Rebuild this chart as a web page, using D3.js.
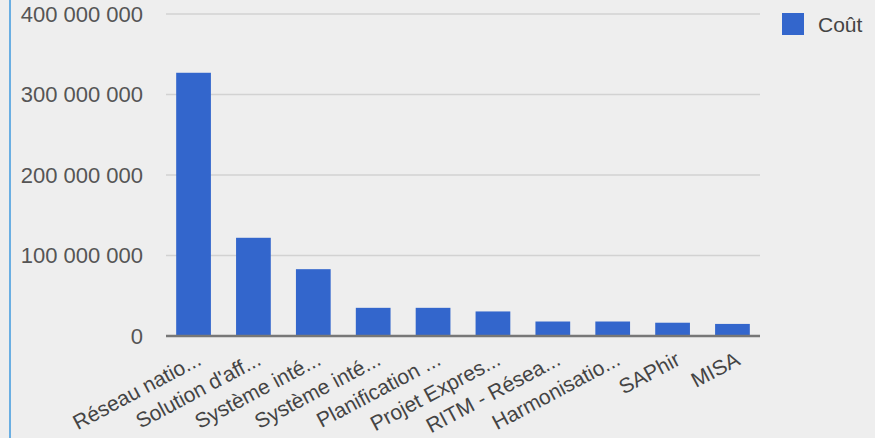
<!DOCTYPE html>
<html>
<head>
<meta charset="utf-8">
<script src="https://cdn.jsdelivr.net/npm/d3@7"></script>
<style>
  body { margin: 0; background: #eeeeee; }
  svg { display: block; font-family: "Liberation Sans", Arial, sans-serif; }
</style>
</head>
<body>
<div id="chart"></div>
<script>
// Data
const categories = ["Réseau natio...", "Solution d'aff...", "Système inté...", "Système inté...",
  "Planification ...", "Projet Expres...", "RITM - Résea...", "Harmonisatio...", "SAPhir", "MISA"];
const couts = [327000000, 122000000, 83000000, 35000000, 35000000, 30500000, 18000000, 18000000, 16500000, 15000000];
const yTicks = [0, 100000000, 200000000, 300000000, 400000000];
const seriesName = "Coût";

const width = 875, height = 438;
const margin = { top: 14, right: 115, bottom: 102, left: 166 };
const chartWidth = width - margin.left - margin.right;
const chartHeight = height - margin.top - margin.bottom;

const svg = d3.select("#chart").append("svg")
  .attr("width", width)
  .attr("height", height);

svg.append("rect").attr("width", width).attr("height", height).attr("fill", "#eeeeee");

// left blue border
svg.append("rect")
  .attr("x", 9).attr("y", 0).attr("width", 2).attr("height", height)
  .attr("fill", "#6aaee2");

const chart = svg.append("g")
  .attr("transform", `translate(${margin.left},${margin.top})`);

// two categories share the same truncated label, so key the scale by index
const x = d3.scaleBand()
  .domain(categories.map((d, i) => i))
  .range([0, chartWidth])
  .paddingInner(0.42)
  .paddingOuter(0.17);

const y = d3.scaleLinear()
  .domain([0, 400000000])
  .range([chartHeight, 0]);

const fmt = v => d3.format(",")(v).replace(/,/g, " ");

// gridlines
chart.selectAll(".grid")
  .data(yTicks.slice(1))
  .enter().append("line")
  .attr("x1", 0).attr("x2", chartWidth)
  .attr("y1", d => y(d)).attr("y2", d => y(d))
  .attr("stroke", "#d2d2d2")
  .attr("stroke-width", 1.5);

// y axis labels
const yAxis = chart.append("g")
  .call(d3.axisLeft(y).tickValues(yTicks).tickFormat(fmt).tickSize(0).tickPadding(23));
yAxis.select(".domain").remove();
yAxis.selectAll("text")
  .attr("font-size", 22)
  .attr("fill", "#555555")
  .attr("font-family", "Liberation Sans, Arial, sans-serif");

// bars
chart.selectAll(".bar")
  .data(couts)
  .enter().append("rect")
  .attr("class", "bar")
  .attr("x", (d, i) => x(i))
  .attr("width", x.bandwidth())
  .attr("y", d => y(d))
  .attr("height", d => chartHeight - y(d))
  .attr("fill", "#3366cc");

// baseline
chart.append("line")
  .attr("x1", 0).attr("x2", chartWidth)
  .attr("y1", y(0)).attr("y2", y(0))
  .attr("stroke", "#777777")
  .attr("stroke-width", 2.5);

// x axis labels, slanted
const xAxis = chart.append("g")
  .attr("transform", `translate(0,${chartHeight})`)
  .call(d3.axisBottom(x).tickSize(0).tickPadding(0).tickFormat(i => categories[i]));
xAxis.select(".domain").remove();
xAxis.selectAll("text")
  .attr("font-size", 21)
  .attr("fill", "#444444")
  .attr("font-family", "Liberation Sans, Arial, sans-serif")
  .attr("text-anchor", "end")
  .attr("dy", 0)
  .attr("y", 0)
  .attr("transform", "translate(9,28) rotate(-28)");

// legend
const legend = svg.append("g").attr("transform", "translate(782,13)");
legend.append("rect")
  .attr("width", 22).attr("height", 22)
  .attr("fill", "#3366cc");
legend.append("text")
  .attr("x", 36).attr("y", 19)
  .attr("font-size", 21)
  .attr("fill", "#444444")
  .text(seriesName);
</script>
</body>
</html>
